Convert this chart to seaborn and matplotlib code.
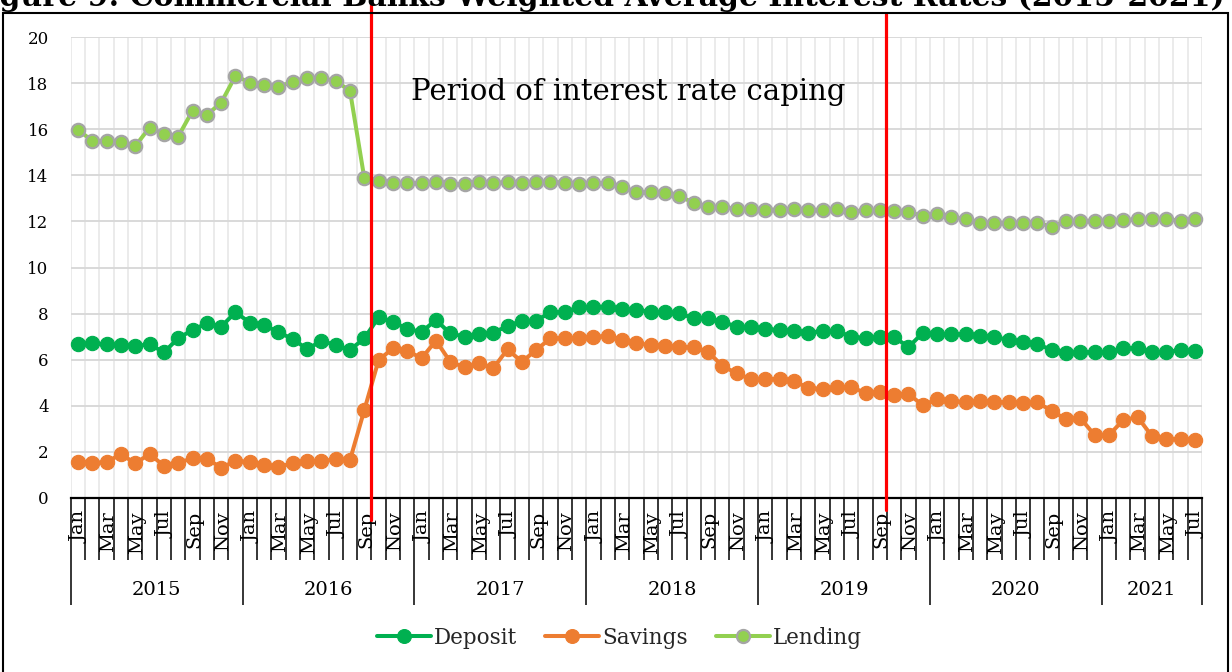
import matplotlib
matplotlib.use('Agg')
import matplotlib.pyplot as plt
import matplotlib.transforms as mtransforms
from matplotlib.patches import Rectangle
from matplotlib.lines import Line2D
import seaborn as sns
import numpy as np
import pandas as pd

# ---------------- data ----------------
years = [2015, 2016, 2017, 2018, 2019, 2020, 2021]
months_per_year = [12, 12, 12, 12, 12, 12, 7]
month_names = ['Jan', 'Feb', 'Mar', 'Apr', 'May', 'Jun',
               'Jul', 'Aug', 'Sep', 'Oct', 'Nov', 'Dec']

deposit = [6.68, 6.71, 6.67, 6.62, 6.59, 6.67, 6.32, 6.93, 7.29, 7.58, 7.43, 8.06,
           7.61, 7.51, 7.19, 6.90, 6.46, 6.81, 6.64, 6.42, 6.93, 7.84, 7.65, 7.33,
           7.21, 7.72, 7.14, 7.00, 7.10, 7.17, 7.46, 7.69, 7.69, 8.06, 8.08, 8.27,
           8.30, 8.30, 8.19, 8.16, 8.08, 8.06, 8.01, 7.80, 7.80, 7.65, 7.43, 7.43,
           7.33, 7.29, 7.26, 7.17, 7.24, 7.25, 7.00, 6.94, 6.98, 6.98, 6.55, 7.16,
           7.11, 7.11, 7.11, 7.03, 6.98, 6.86, 6.77, 6.68, 6.42, 6.29, 6.33, 6.33,
           6.33, 6.50, 6.50, 6.33, 6.33, 6.42, 6.38]

savings = [1.58, 1.53, 1.55, 1.91, 1.50, 1.91, 1.40, 1.53, 1.72, 1.70, 1.32, 1.60,
           1.58, 1.43, 1.36, 1.50, 1.60, 1.60, 1.68, 1.65, 3.82, 5.99, 6.49, 6.39,
           6.06, 6.83, 5.91, 5.67, 5.87, 5.63, 6.45, 5.91, 6.42, 6.93, 6.93, 6.93,
           7.00, 7.03, 6.85, 6.71, 6.64, 6.59, 6.54, 6.54, 6.35, 5.73, 5.41, 5.15,
           5.15, 5.17, 5.09, 4.76, 4.74, 4.80, 4.82, 4.55, 4.60, 4.47, 4.51, 4.03,
           4.28, 4.22, 4.15, 4.22, 4.18, 4.15, 4.11, 4.15, 3.78, 3.42, 3.47, 2.73,
           2.73, 3.38, 3.51, 2.69, 2.56, 2.56, 2.52]

lending = [15.97, 15.50, 15.49, 15.43, 15.27, 16.07, 15.79, 15.68, 16.80, 16.62, 17.15, 18.31,
           18.02, 17.92, 17.84, 18.06, 18.24, 18.21, 18.10, 17.66, 13.87, 13.77, 13.68, 13.65,
           13.65, 13.72, 13.62, 13.62, 13.72, 13.65, 13.72, 13.65, 13.72, 13.72, 13.68, 13.62,
           13.65, 13.68, 13.51, 13.26, 13.26, 13.25, 13.09, 12.81, 12.64, 12.62, 12.54, 12.53,
           12.51, 12.51, 12.54, 12.51, 12.50, 12.52, 12.42, 12.49, 12.49, 12.47, 12.39, 12.25,
           12.32, 12.20, 12.09, 11.94, 11.95, 11.92, 11.95, 11.95, 11.77, 12.02, 12.02, 12.03,
           12.03, 12.06, 12.09, 12.09, 12.09, 12.03, 12.09]

series_names = ['Deposit', 'Savings', 'Lending']
series_values = [deposit, savings, lending]
y_ticks = list(range(0, 21, 2))
title_text = 'Figure 9: Commercial Banks Weighted Average Interest Rates (2015-2021)'
annotation_text = 'Period of interest rate caping'

# ---------------- styles ----------------
colors = {'Deposit': '#00B050', 'Savings': '#ED7D31', 'Lending': '#92D050'}
edge_colors = {'Deposit': '#00B050', 'Savings': '#ED7D31', 'Lending': '#A5A5A5'}

sns.set_style('white')
plt.rcParams['font.family'] = ['DejaVu Serif']

# month/year categories
cat_year = []
cat_month = []
for y, n in zip(years, months_per_year):
    for m in range(n):
        cat_year.append(y)
        cat_month.append(month_names[m])
n_cat = len(cat_month)

rows = []
for name, vals in zip(series_names, series_values):
    for i, v in enumerate(vals):
        rows.append({'idx': i, 'rate': v, 'series': name})
df = pd.DataFrame(rows)

W, H = 1232, 672
fig = plt.figure(figsize=(W / 100, H / 100), dpi=100)
ax = fig.add_axes([70.8 / W, 174 / H, 1131.2 / W, 461 / H])

# grid
boundaries = np.arange(n_cat + 1) - 0.5
ax.vlines(boundaries, 0, 20, color='#ebebeb', lw=1.4, zorder=0)
ax.set_yticks(y_ticks)
ax.yaxis.grid(True, color='#d9d9d9', lw=1.4, zorder=0)
ax.set_axisbelow(True)

for name in series_names:
    sub = df[df['series'] == name]
    sns.lineplot(data=sub, x='idx', y='rate', ax=ax, color=colors[name],
                 linewidth=2.9, marker='o', markersize=10.3 if name != 'Lending' else 9.6,
                 markerfacecolor=colors[name], markeredgecolor=edge_colors[name],
                 markeredgewidth=1.6 if name == 'Lending' else 0.8,
                 legend=False, zorder=3, clip_on=False)

ax.set_xlim(-0.5, n_cat - 0.5)
ax.set_ylim(0, 20)
ax.set_xlabel('')
ax.set_ylabel('')

for s in ['left', 'right', 'top']:
    ax.spines[s].set_visible(False)
ax.spines['bottom'].set_color('black')
ax.spines['bottom'].set_linewidth(1.6)

# y ticks
ax.tick_params(axis='y', length=0, pad=16, labelsize=12, labelcolor='black')

# x ticks: minor every category boundary, major at year boundaries
year_bounds = [-0.5]
for n in months_per_year:
    year_bounds.append(year_bounds[-1] + n)
ax.set_xticks(year_bounds)
ax.set_xticks(boundaries, minor=True)
ax.set_xticklabels([])
ax.tick_params(axis='x', which='both', bottom=True, labelbottom=False)
ax.tick_params(axis='x', which='major', direction='out', length=77, width=1.1, color='black')
ax.tick_params(axis='x', which='minor', direction='out', length=44.6, width=1.1, color='black')

trans = mtransforms.blended_transform_factory(ax.transData, ax.transAxes)
axh = 461.0
for i, mname in enumerate(cat_month):
    if month_names.index(mname) % 2 == 0:
        ax.text(i + 0.12, -13 / axh, mname, rotation=90, ha='center', va='top',
                fontsize=14, transform=trans, color='black')
for k, y in enumerate(years):
    center = (year_bounds[k] + year_bounds[k + 1]) / 2
    ax.text(center, -92 / axh, str(y), ha='center', va='center', fontsize=14,
            transform=trans, color='black')

# capping period markers
cap_start = 12 * 1 + month_names.index('Sep') + 0.5      # Sep 2016
cap_end = 12 * 4 + month_names.index('Sep') + 0.4        # Sep 2019
ax.plot([cap_start, cap_start], [21.7, -0.95], color='red', lw=2.3, clip_on=False, zorder=5)
ax.plot([cap_end, cap_end], [21.0, -0.52], color='red', lw=2.3, clip_on=False, zorder=5)

ax.text(38.4, 17.27, annotation_text, ha='center', va='baseline', fontsize=21, color='black')

# legend
handles = [Line2D([0], [0], color=colors[n], lw=2.9, marker='o',
                  markersize=10 if n != 'Lending' else 9.4,
                  markerfacecolor=colors[n], markeredgecolor=edge_colors[n],
                  markeredgewidth=1.6 if n == 'Lending' else 0.8) for n in series_names]
fig.legend(handles, series_names, loc='center', bbox_to_anchor=(0.503, 34 / H), ncol=3,
           frameon=False, fontsize=15.5, handlelength=2.5, columnspacing=1.3,
           handletextpad=0.15)

# border and title
fig.patches.append(Rectangle((3 / W, -0.1), (1228 - 3) / W, 0.1 + 1 - 13 / H,
                             transform=fig.transFigure, fill=False, ec='black', lw=1.5))
fig.text(1225 / W, 1 - 6 / H, title_text, ha='right', va='baseline', fontsize=21.5,
         fontweight='bold', color='black')

fig.savefig('out.png', dpi=100)
